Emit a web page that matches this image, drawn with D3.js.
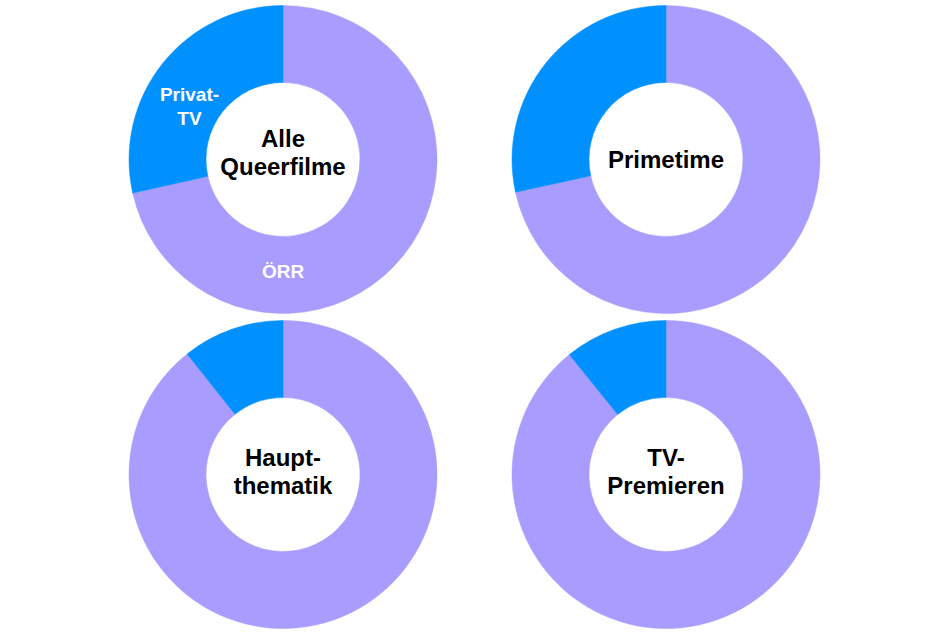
<!DOCTYPE html>
<html>
<head>
<meta charset="utf-8">
<script src="https://cdn.jsdelivr.net/npm/d3@7"></script>
<style>
  body { margin: 0; background: #fff; }
  svg { display: block; font-family: "Liberation Sans", Arial, sans-serif; }
  .title { font-weight: bold; font-size: 24px; fill: #000; }
  .slice-label { font-weight: bold; font-size: 19px; fill: #fff; }
</style>
</head>
<body>
<script>
// shares in percent, ÖRR vs. Privat-TV
var panels = ["Alle Queerfilme", "Primetime", "Hauptthematik", "TV-Premieren"];
var titleLines = [["Alle", "Queerfilme"], ["Primetime"], ["Haupt-", "thematik"], ["TV-", "Premieren"]];
var categories = ["ÖRR", "Privat-TV"];
var oerr = [71.5, 71.6, 89.3, 89.2];
var privat = [28.5, 28.4, 10.7, 10.8];
var sliceLabels = [["ÖRR"], ["Privat-", "TV"]];

var width = 950, height = 635;
var colX = [283, 666], rowY = [159.5, 474.5];
var innerR = 77, outerR = 154;
var titleShift = [-7, 0, -2.5, -2.5];

var color = d3.scaleOrdinal().domain(categories).range(["#a89cff", "#0091ff"]);

var pie = d3.pie().sort(null).value(function(d) { return d.value; });
var arc = d3.arc().innerRadius(innerR).outerRadius(outerR);
// label positions on the first chart (set by angle/radius, as in the original)
var labelArc = d3.arc().innerRadius(0).outerRadius(0);
var labelPos = [{angle: Math.PI, r: 111}, {angle: 300 / 180 * Math.PI, r: 108}];

var svg = d3.select("body").append("svg").attr("width", width).attr("height", height);

panels.forEach(function(name, i) {
	var data = [{key: categories[0], value: oerr[i]}, {key: categories[1], value: privat[i]}];
	var g = svg.append("g")
		.attr("transform", "translate(" + colX[i % 2] + "," + rowY[Math.floor(i / 2)] + ")");

	g.selectAll("path").data(pie(data)).enter()
		.append("path")
		.attr("d", arc)
		.attr("fill", function(d) { return color(d.data.key); })
		.attr("stroke", function(d) { return color(d.data.key); })
		.attr("stroke-width", 0.5);

	var lines = titleLines[i];
	var t = g.append("text").attr("class", "title").attr("text-anchor", "middle");
	lines.forEach(function(line, j) {
		t.append("tspan").attr("x", 0)
			.attr("y", 8 - (lines.length - 1) * 14 + titleShift[i] + j * 28)
			.text(line);
	});

	if (i === 0) {
		sliceLabels.forEach(function(lbl, k) {
			var p = labelPos[k];
			var c = [Math.sin(p.angle) * p.r, -Math.cos(p.angle) * p.r];
			var st = g.append("text").attr("class", "slice-label").attr("text-anchor", "middle");
			lbl.forEach(function(line, j) {
				st.append("tspan").attr("x", c[0])
					.attr("y", c[1] + 7 - (lbl.length - 1) * 12 + j * 24)
					.text(line);
			});
		});
	}
});
</script>
</body>
</html>
